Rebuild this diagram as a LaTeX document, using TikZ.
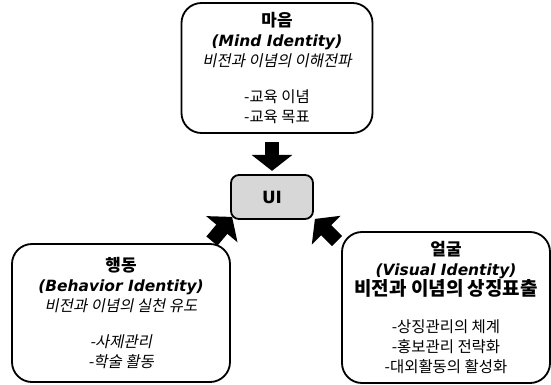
\documentclass[tikz,border=0pt]{standalone}
\usepackage{fontspec}
\setmainfont{Noto Sans CJK KR}[AutoFakeSlant=0.2]
\newfontfamily\latinfont{DejaVu Sans}
\usetikzlibrary{arrows.meta}
\definecolor{colUI}{RGB}{215, 215, 215}

\begin{document}
\begin{tikzpicture}[
    every node/.style={font=\fontsize{11}{14}\selectfont},
    idbox/.style={draw, line width=1.3pt, rounded corners=0.5cm, align=center, inner sep=0pt},
    uibox/.style={draw, line width=1.3pt, rounded corners=0.2cm, fill=colUI,
        minimum width=2.05cm, minimum height=1.1cm, font=\latinfont\bfseries\large},
    fatarrow/.style={line width=0.36cm, -{Triangle[width=1cm, length=0.4cm]}}
]
    \useasboundingbox (0, 0) rectangle (13.775, 9.6);

    % --- Mind Identity ---
    \node[idbox, minimum width=4.775cm, minimum height=3.25cm] (mind) at (6.925, 7.9) {
        {\bfseries\itshape\fontsize{12}{14}\selectfont 마음}\\
        {\latinfont\bfseries\itshape (Mind Identity)}\\
        {\itshape 비전과 이념의 이해전파}\\[12pt]
        -교육 이념\\
        -교육 목표};

    % --- UI ---
    \node[uibox] (ui) at (6.8, 4.675) {UI};

    % --- Behavior Identity ---
    \node[idbox, minimum width=5.45cm, minimum height=3.45cm] (behav) at (3.025, 1.775) {
        {\bfseries\itshape\fontsize{12}{14}\selectfont 행동}\\
        {\latinfont\bfseries\itshape (Behavior Identity)}\\
        {\itshape 비전과 이념의 실천 유도}\\[12pt]
        {\itshape -사제관리}\\
        {\itshape -학술 활동}};

    % --- Visual Identity ---
    \node[idbox, minimum width=5.2cm, minimum height=3.775cm] (visual) at (11.15, 1.9125) {
        {\bfseries\itshape\fontsize{12}{14}\selectfont 얼굴}\\
        {\latinfont\bfseries\itshape (Visual Identity)}\\
        {\bfseries\itshape\fontsize{13.5}{15}\selectfont 비전과 이념의 상징표출}\\[13pt]
        -상징관리의 체계\\
        -홍보관리 전략화\\
        -대외활동의 활성화};

    % --- Arrows into UI ---
    \coordinate (behavTail) at ([xshift=-0.475cm, yshift=0.05cm]behav.north east);
    \coordinate (visualTail) at ([xshift=-0.1cm, yshift=-0.25cm]visual.north west);
    \draw[fatarrow, shorten <=0.2cm, shorten >=0.08cm] (ui.north |- mind.south) -- (ui.north);
    \draw[fatarrow] (behavTail) -- ([shift={(0.05, 0.075)}]ui.south west);
    \draw[fatarrow] (visualTail) -- ([shift={(0.025, 0.025)}]ui.south east);
\end{tikzpicture}
\end{document}
